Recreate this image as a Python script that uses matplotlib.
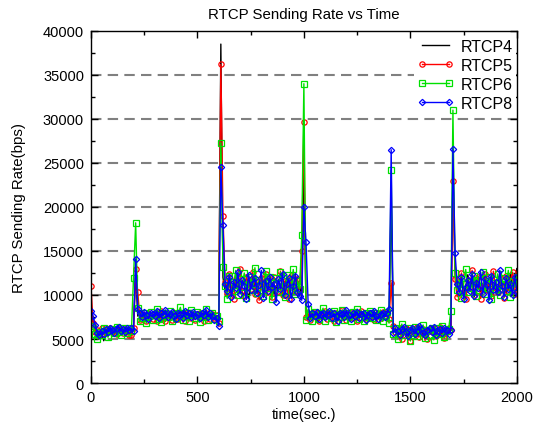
import numpy as np
import matplotlib
matplotlib.use("Agg")
import matplotlib.pyplot as plt
from matplotlib.ticker import MultipleLocator

plt.rcParams['font.family'] = ['Liberation Sans', 'DejaVu Sans']

# values in hundreds of bps, one sample every 10 s
rtcp4 = [80, 70, 60, 55, 52, 57, 48, 55, 60, 62, 58, 56, 61, 63, 59, 57, 62, 60, 58, 61, 64,
         125,
         76, 80, 78, 74, 79, 82, 77, 75, 80, 78, 73, 76, 81, 79, 77, 74, 78, 83, 80, 76, 75, 79, 82, 78, 74, 77, 80, 76, 79, 81, 77, 73, 78, 80, 76, 79, 75, 72, 70,
         385,
         120, 105, 112, 118, 100, 108, 125, 114, 103, 110, 119, 107, 96, 113, 121, 109, 104, 116, 111, 99, 118, 106, 122, 113, 101, 108, 117, 110, 97, 112, 119, 105, 114, 108, 123, 102, 110, 98,
         260,
         82, 72, 78, 80, 75, 77, 81, 79, 74, 78, 76, 80, 83, 77, 73, 79, 81, 75, 78, 80, 76, 74, 79, 82, 77, 75, 80, 78, 74, 81, 79, 76, 78, 80, 75, 77, 79, 82, 76, 74,
         210,
         62, 58, 60, 64, 56, 61, 59, 63, 57, 60, 62, 55, 59, 61, 52, 58, 63, 60, 57, 53, 60, 62, 58, 56, 61, 59, 63, 60,
         240,
         135, 112, 105, 118, 101, 110, 123, 107, 115, 98, 112, 120, 104, 109, 117, 103, 111, 122, 106, 113, 100, 118, 108, 115, 102, 110, 125, 107, 113, 130]

rtcp5 = [110, 68, 58, 60, 55, 62, 59, 57, 61, 63, 58, 60, 56, 62, 60, 57, 61, 59, 55, 54, 62,
         129,
         103, 72, 78, 75, 70, 80, 76, 73, 79, 71, 77, 82, 74, 70, 78, 76, 72, 80, 75, 73, 79, 77, 71, 81, 76, 74, 78, 72, 77, 80, 75, 71, 79, 76, 73, 78, 74, 77, 68,
         362,
         190, 115, 102, 124, 108, 96, 118, 111, 130, 104, 99, 121, 113, 107, 126, 101, 115, 94, 119, 109, 124, 103, 112, 98, 120, 114, 105, 127, 100, 116, 108, 95, 122, 111, 104, 118, 107, 150,
         297,
         75, 79, 72, 77, 81, 74, 70, 78, 76, 82, 73, 79, 75, 71, 80, 77, 74, 83, 76, 72, 78, 80, 74, 77, 71, 79, 82, 75, 73, 78, 76, 80, 72, 77, 79, 74, 81, 76, 78, 73,
         114,
         65, 58, 54, 62, 50, 59, 63, 56, 48, 60, 57, 64, 52, 58, 61, 55, 50, 59, 62, 57, 53, 60, 64, 56, 51, 58, 62, 60,
         230,
         118, 98, 112, 125, 104, 95, 117, 109, 128, 100, 113, 121, 96, 110, 124, 106, 115, 99, 127, 108, 103, 119, 112, 97, 122, 105, 116, 126, 101, 111]

rtcp6 = [65, 62, 56, 50, 58, 55, 63, 60, 52, 59, 61, 57, 64, 58, 55, 62, 60, 57, 63, 59, 119,
         182,
         85, 70, 74, 79, 68, 76, 81, 72, 78, 84, 73, 69, 80, 77, 75, 82, 71, 78, 74, 80, 86, 72, 76, 79, 70, 83, 77, 74, 81, 69, 78, 75, 84, 72, 77, 80, 73, 76, 70,
         273,
         132, 110, 96, 122, 115, 104, 128, 100, 118, 109, 125, 97, 113, 120, 106, 131, 102, 117, 111, 99, 127, 108, 121, 95, 114, 119, 103, 126, 110, 98, 123, 112, 105, 129, 101, 116, 107, 168,
         340,
         72, 84, 78, 70, 81, 76, 73, 79, 85, 71, 77, 80, 74, 82, 69, 78, 75, 83, 72, 79, 76, 70, 81, 77, 84, 73, 78, 71, 80, 75, 82, 74, 79, 72, 77, 83, 70, 76, 81, 68,
         242,
         56, 63, 50, 60, 67, 54, 59, 62, 48, 57, 64, 53, 61, 58, 66, 51, 60, 55, 63, 49, 58, 62, 56, 65, 52, 59, 61, 82,
         310,
         125, 106, 118, 97, 112, 129, 103, 115, 108, 122, 99, 117, 110, 126, 101, 113, 120, 96, 114, 107, 124, 100, 119, 111, 105, 128, 98, 116, 109, 121]

rtcp8 = [82, 76, 66, 57, 54, 59, 56, 61, 58, 63, 60, 57, 62, 64, 59, 61, 58, 63, 60, 62, 59,
         141,
         84, 79, 75, 81, 77, 73, 80, 78, 76, 82, 74, 79, 77, 83, 75, 78, 81, 76, 73, 80, 78, 74, 82, 77, 79, 75, 81, 76, 78, 74, 80, 77, 83, 75, 79, 76, 72, 74, 65,
         245,
         180, 112, 104, 121, 98, 115, 108, 126, 101, 117, 110, 95, 123, 106, 114, 119, 102, 111, 128, 97, 116, 105, 120, 109, 113, 92, 118, 107, 124, 100, 112, 119, 96, 110, 122, 103, 99, 94,
         200,
         160, 90, 74, 79, 76, 81, 73, 78, 80, 75, 77, 82, 74, 79, 76, 71, 80, 78, 75, 83, 77, 73, 79, 76, 81, 74, 78, 80, 72, 77, 79, 75, 82, 76, 73, 78, 80, 75, 79, 84,
         265,
         57, 62, 59, 55, 61, 64, 58, 53, 60, 63, 56, 59, 65, 61, 57, 54, 60, 62, 58, 64, 55, 59, 61, 57, 63, 60, 56, 60,
         266,
         148, 112, 103, 120, 96, 109, 117, 105, 124, 99, 114, 108, 126, 101, 118, 111, 94, 122, 106, 115, 103, 128, 110, 98, 119, 107, 113, 100, 121, 105]

series_names = ["RTCP4", "RTCP5", "RTCP6", "RTCP8"]
series_vals = [rtcp4, rtcp5, rtcp6, rtcp8]
sample_step = 10  # seconds

colors = ["black", "red", "#00e000", "blue"]
markers = [None, "o", "s", "D"]
msizes = [0, 3.8, 3.8, 3.2]

fig = plt.figure(figsize=(5.35, 4.31), dpi=100)
ax = fig.add_axes([0.170, 0.109, 0.796, 0.817])

for name, vals, c, m, ms in zip(series_names, series_vals, colors, markers, msizes):
    v = np.asarray(vals, dtype=float) * 100.0
    t = np.arange(len(v)) * sample_step
    if m is None:
        ax.plot(t, v, color=c, lw=1.0, label=name, zorder=2)
    else:
        ax.plot(t, v, color=c, lw=1.0, marker=m, ms=ms, mfc="none",
                mec=c, mew=0.9, label=name, zorder=2)

ax.set_xlim(0, 2000)
ax.set_ylim(0, 40000)
ax.xaxis.set_major_locator(MultipleLocator(500))
ax.xaxis.set_minor_locator(MultipleLocator(250))
ax.yaxis.set_major_locator(MultipleLocator(5000))
ax.yaxis.set_minor_locator(MultipleLocator(2500))
ax.tick_params(which="both", direction="in", top=True, right=True, labelsize=10.5, pad=5)
ax.tick_params(which="major", length=5, width=1)
ax.tick_params(which="minor", length=3, width=1)

for yv in range(5000, 40000, 5000):
    ax.axhline(yv, color="#808080", lw=1.5, ls=(0, (5, 3)), zorder=0.5)

for s in ax.spines.values():
    s.set_linewidth(1.0)

ax.set_title("RTCP Sending Rate vs Time", fontsize=10.8, pad=9)
ax.set_xlabel("time(sec.)", fontsize=10.5, labelpad=2)
ax.set_ylabel("RTCP Sending Rate(bps)", fontsize=10.8, labelpad=12)

leg = ax.legend(loc="upper right", bbox_to_anchor=(1.0, 0.989), frameon=True,
                fancybox=False, framealpha=1.0, edgecolor="none", facecolor="white",
                fontsize=11.5, handlelength=2.3, numpoints=2, borderpad=0.2,
                labelspacing=0.25, handletextpad=0.45, borderaxespad=0.05)
leg.set_zorder(1.5)

fig.savefig("out.png", dpi=100)
